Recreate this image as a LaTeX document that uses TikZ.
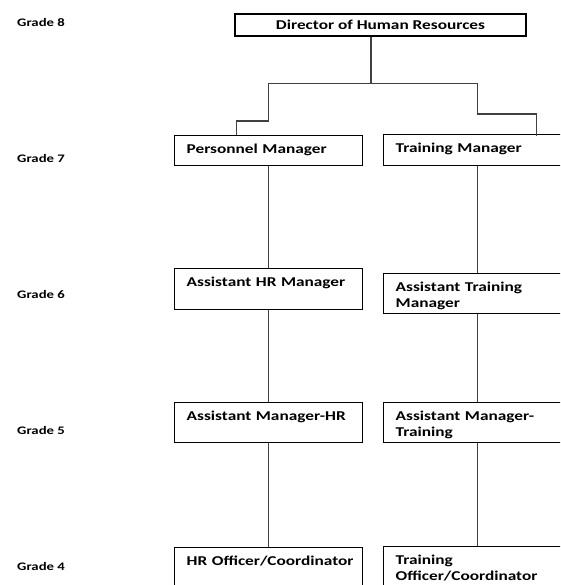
\documentclass[tikz,border=0pt]{standalone}
\usepackage{fontspec}
\setmainfont{Carlito}[FakeStretch=1.28]

\begin{document}
\begin{tikzpicture}[x=1pt, y=-1pt,
  post/.style={draw, line width=1.4pt, anchor=north west, align=left, text width=164pt, inner xsep=12pt, inner ysep=0pt, text height=17.5pt, font=\bfseries\fontsize{13.5}{16.7}\selectfont},
  head/.style={draw, line width=1.4pt, minimum width=291pt, minimum height=22pt, inner sep=0pt, font=\bfseries\fontsize{13.5}{16.7}\selectfont},
  grade/.style={anchor=base west, inner sep=0pt, font=\bfseries\fontsize{11.5}{13}\selectfont},
  link/.style={line width=1.5pt, black!75}]
\clip (0,0) rectangle (560,585);

% grades
\node[grade] (g8) at (17,27) {Grade 8};
\node[grade] (g7) at (17,163) {Grade 7};
\node[grade] (g6) at (17,298) {Grade 6};
\node[grade] (g5) at (17,434) {Grade 5};
\node[grade] (g4) at (17,570) {Grade 4};

% posts
\node[head] (dir) at (380.5,25) {Director of Human Resources};

\node[post, text depth=12.5pt] (pm) at (174,135) {Personnel Manager};
\node[post, text depth=13.5pt] (tm) at (383,134) {Training Manager};

\node[post, text depth=23.5pt] (ahr) at (174,268) {Assistant HR Manager};
\node[post, text depth=22.5pt] (atm) at (383,273) {Assistant Training\\Manager};

\node[post, text depth=22.5pt] (amhr) at (174,402) {\mbox{Assistant Manager-HR}};
\node[post, text depth=22.5pt] (amtr) at (383,402) {Assistant Manager-\\Training};

\node[post, text depth=22.5pt] (hro) at (174,547) {\mbox{HR Officer/Coordinator}};
\node[post, text depth=22.5pt] (tro) at (383,546) {Training\\\mbox{Officer/Coordinator}};

% links
\draw[link] ([xshift=-9.5pt]dir.south) -- ++(0,47) coordinate (split);
\draw[link] (split) -| ([yshift=14pt]pm.north) -| ([xshift=-32pt]pm.north);
\draw[link] (split) -| ([yshift=20pt]tm.north) -| ([xshift=59pt,yshift=-2pt]tm.north);

\draw[link] (pm.south) -- (ahr.north);
\draw[link] (ahr.south) -- (amhr.north);
\draw[link] (amhr.south) -- (hro.north);

\draw[link] (tm.south) -- (atm.north);
\draw[link] (atm.south) -- (amtr.north);
\draw[link] (amtr.south) -- (tro.north);

\end{tikzpicture}
\end{document}
